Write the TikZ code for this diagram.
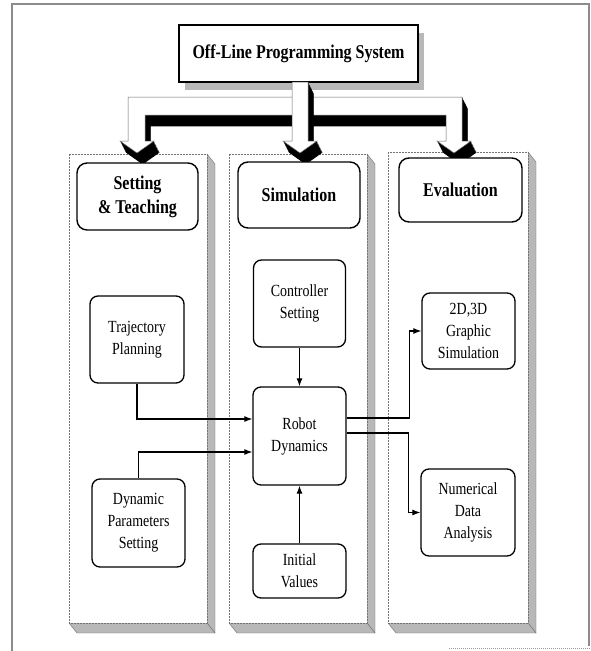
\documentclass[tikz,border=0pt]{standalone}
\usepackage{fontspec}
\setmainfont{Liberation Serif}[FakeStretch=0.82]
\usetikzlibrary{arrows.meta}

% outlines of the two 3D arrows (pixel units, y downwards)
\def\brackshape{(128,97) -- (462,97) -- (462,141) -- (471,141) -- (454,153) -- (437,141) -- (446,141) -- (446,115) -- (145,115) -- (145,141) -- (154,141) -- (137,153) -- (120,141) -- (128,141) -- cycle}
\def\shaftshape{(292,82) -- (308,82) -- (308,141) -- (317,141) -- (300,153) -- (283,141) -- (292,141) -- cycle}

\begin{document}
\begin{tikzpicture}[x=1pt, y=-1pt,
  headbox/.style={draw, line width=1.4pt, rounded corners=10pt, fill=white, align=center, inner sep=0pt, font=\bfseries\fontsize{19.5}{24}\selectfont},
  itembox/.style={draw, line width=1.3pt, rounded corners=8pt, fill=white, align=center, inner sep=0pt, font=\fontsize{17}{22}\selectfont},
  link/.style={line width=1.1pt, -{Latex[length=8pt,width=6pt]}},
  face/.style={fill=white, draw=black!55, line width=0.5pt, dash pattern=on 2pt off 1pt},
  depth/.style={fill=black!28, draw=black!55, line width=0.4pt}]

\useasboundingbox (0,0) rectangle (591,651);

% scanned frame
\draw[black!45, line width=2pt] (12,651) -- (12,4) -- (589,4) -- (589,646);
\draw[black!40, line width=1pt, dash pattern=on 1pt off 1pt] (449,648) -- (591,648);

% the three columns
\foreach \xa/\xb/\yt in {69/207/154, 229/367/154, 388/528/152} {
  \filldraw[depth] (\xb,\yt) -- (\xb+8,\yt+10) -- (\xb+8,633) -- (\xb,623) -- cycle;
  \filldraw[depth] (\xa,623) -- (\xb,623) -- (\xb+8,633) -- (\xa+8,633) -- cycle;
  \draw[face] (\xa,\yt) rectangle (\xb,623);
}

% title
\fill[black!28] (185,33) rectangle (424,90);
\node[draw, line width=1.4pt, fill=white, minimum width=239pt, minimum height=57pt, inner sep=0pt, font=\bfseries\fontsize{19.5}{24}\selectfont] (title) at (298.5,53.5) {Off-Line Programming System};

% 3D arrows
\foreach \t in {0,0.05,...,1}
  \fill[black, shift={(6*\t,12*\t)}] \brackshape;
\filldraw[fill=white, draw=black!60, line width=0.5pt] \brackshape;
\foreach \t in {0,0.05,...,1}
  \fill[black, shift={(6*\t,12*\t)}] \shaftshape;
\filldraw[fill=white, draw=black!60, line width=0.5pt] \shaftshape;

% headers
\node[headbox, minimum width=121pt, minimum height=67pt] (setting) at (137.5,196.5) {Setting\\\& Teaching};
\node[headbox, minimum width=122pt, minimum height=66pt] (simul) at (299,195) {Simulation};
\node[headbox, minimum width=123pt, minimum height=64pt] (evalu) at (460.5,190) {Evaluation};

% blocks
\node[itembox, minimum width=94pt, minimum height=87pt] (traj) at (137,339.5) {Trajectory\\Planning};
\node[itembox, minimum width=93pt, minimum height=88pt] (dyn) at (138.5,523) {Dynamic\\Parameters\\Setting};
\node[itembox, minimum width=92pt, minimum height=87pt] (ctrl) at (299.5,303.5) {Controller\\Setting};
\node[itembox, minimum width=93pt, minimum height=98pt] (robot) at (299.5,436) {Robot\\Dynamics};
\node[itembox, minimum width=93pt, minimum height=54pt] (init) at (299.5,571) {Initial\\Values};
\node[itembox, minimum width=93pt, minimum height=76pt] (graph) at (468.5,331) {2D,3D\\Graphic\\Simulation};
\node[itembox, minimum width=94pt, minimum height=87pt] (num) at (468,512.5) {Numerical\\Data\\Analysis};

% connections
\draw[link] (traj.south) |- ([yshift=17pt]robot.west);
\draw[link] (dyn.north) |- ([yshift=-16pt]robot.west);
\draw[link] (ctrl.south) -- (robot.north);
\draw[link] (init.north) -- (robot.south);
\draw[link] ([yshift=18pt]robot.east) -| ([xshift=-12pt]graph.west) -- (graph.west);
\draw[link] ([yshift=3pt]robot.east) -| ([xshift=-12pt]num.west) -- (num.west);
\end{tikzpicture}
\end{document}
